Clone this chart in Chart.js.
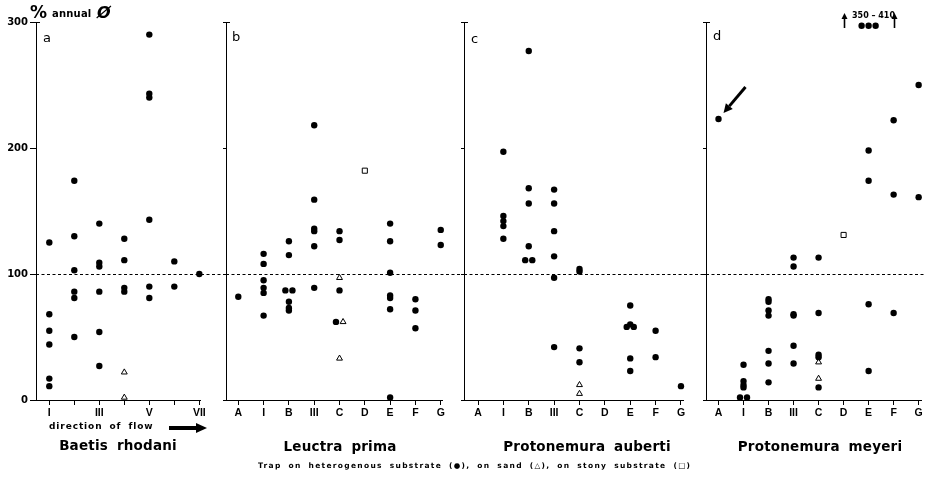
<!DOCTYPE html>
<html>
<head>
<meta charset="utf-8">
<script src="https://cdn.jsdelivr.net/npm/chart.js@4/dist/chart.umd.min.js"></script>
<style>
  html, body { margin:0; padding:0; background:#fff; }
  #wrap { position:relative; width:926px; height:483px; background:#fff; overflow:hidden; font-family:"DejaVu Sans", sans-serif; color:#000; }
  canvas { position:absolute; top:0; }
  .txt { position:absolute; white-space:nowrap; font-weight:bold; line-height:1; }
  .title { font-size:13.5px; letter-spacing:0.2px; word-spacing:4px; transform:translateX(-50%); }
  .plet { position:absolute; font-size:13px; line-height:1; font-family:"DejaVu Sans", sans-serif; }
</style>
</head>
<body>
<div id="wrap">
  <canvas id="cA"></canvas>
  <canvas id="cB"></canvas>
  <canvas id="cC"></canvas>
  <canvas id="cD"></canvas>

  <div class="txt" style="left:30px;top:4px;font-size:17px;">%</div>
  <div class="txt" style="left:52px;top:9px;font-size:10px;letter-spacing:0.2px;">annual</div>
  <div class="txt" style="left:97px;top:5px;font-size:16px;font-style:italic;">Ø</div>

  <div class="plet" style="left:43px;top:31px;">a</div>
  <div class="plet" style="left:232px;top:30px;">b</div>
  <div class="plet" style="left:471px;top:32px;">c</div>
  <div class="plet" style="left:713px;top:29px;">d</div>

  <div class="txt" style="left:852px;top:12px;font-size:8px;">350 – 410</div>

  <div class="txt" style="left:49px;top:422px;font-size:9px;letter-spacing:0.9px;word-spacing:3px;">direction of flow</div>
  <svg style="position:absolute;left:169px;top:422px;" width="40" height="12">
    <line x1="0" y1="6" x2="30" y2="6" stroke="#000" stroke-width="4"/>
    <polygon points="27,1 38,6 27,11" fill="#000"/>
  </svg>

  <div class="txt title" style="left:118px;top:439px;">Baetis rhodani</div>
  <div class="txt title" style="left:340px;top:440px;">Leuctra prima</div>
  <div class="txt title" style="left:587px;top:440px;">Protonemura auberti</div>
  <div class="txt title" style="left:820px;top:440px;">Protonemura meyeri</div>

  <div class="txt" style="left:258px;top:462px;font-size:7.5px;letter-spacing:1.3px;word-spacing:3px;">Trap on heterogenous substrate (●), on sand (△), on stony substrate (□)</div>
</div>

<script>
// ---------------- DATA (values in % of annual mean) ----------------
// Panel a: Baetis rhodani, traps I..VII along the direction of flow
const baetisCats = ['I','II','III','IV','V','VI','VII'];
const baetisTickLabels = ['I','','III','','V','','VII'];
const baetisHetero = [
  [125, 68, 55, 44, 17, 11],       // I
  [174, 130, 103, 86, 81, 50],     // II
  [140, 109, 106, 86, 54, 27],     // III
  [128, 111, 89, 86],              // IV
  [290, 243, 240, 143, 90, 81],    // V
  [110, 90],                       // VI
  [100]                            // VII
];
const baetisSand = [[], [], [], [22, 2], [], [], []];

// Panels b-d: traps A, I, B, III, C, D, E, F, G
const trapCats = ['A','I','B','III','C','D','E','F','G'];

// Panel b: Leuctra prima
const leuctraHetero = [
  [82],                              // A
  [116, 108, 95, 89, 85, 67],        // I
  [126, 115, 87, 87, 78, 73, 71],    // B
  [218, 159, 136, 134, 122, 89],     // III
  [134, 127, 87, 62],                // C
  [],                                // D
  [140, 126, 101, 83, 81, 72, 2],    // E
  [80, 71, 57],                      // F
  [135, 123]                         // G
];
const leuctraSand = [[], [], [], [], [97, 62, 33], [], [], [], []];
const leuctraStony = [[], [], [], [], [], [182], [], [], []];

// Panel c: Protonemura auberti
const aubertiHetero = [
  [],                                // A
  [197, 146, 142, 138, 128],         // I
  [277, 168, 156, 122, 111, 111],    // B
  [167, 156, 134, 114, 97, 42],      // III
  [104, 102, 41, 30],                // C
  [],                                // D
  [75, 60, 58, 58, 33, 23],          // E
  [55, 34],                          // F
  [11]                               // G
];
const aubertiSand = [[], [], [], [], [12, 5], [], [], [], []];

// Panel d: Protonemura meyeri (three E values of 350–410 are drawn at the top edge, 297)
const meyeriHetero = [
  [223],                             // A
  [28, 15, 12, 10, 2, 2],            // I
  [80, 78, 71, 67, 39, 29, 14],      // B
  [113, 106, 68, 67, 43, 29],        // III
  [113, 69, 36, 34, 10],             // C
  [],                                // D
  [297, 297, 297, 198, 174, 76, 23], // E
  [222, 163, 69],                    // F
  [250, 161]                         // G
];
const meyeriSand = [[], [], [], [], [30, 17], [], [], [], []];
const meyeriStony = [[], [], [], [], [], [131], [], [], []];

const yTicks = [0, 100, 200, 300];
const refValue = 100;

// ---------------- RENDERING ----------------
const DODGE = 0.28; // horizontal spread (category units) for coinciding points

const STYLES = {
  hetero: { style: 'circle', r: 3.2, fill: '#000', bw: 0 },
  sand:   { style: 'triangle', r: 3.4, fill: '#fff', bw: 1 },
  stony:  { style: 'rect', r: 3.6, fill: '#fff', bw: 1 }
};

function buildSets(seriesList) {
  // flatten, then dodge points with identical category & value (across series)
  const sets = seriesList.map(s => ({ ...s, pts: [] }));
  const groups = {};
  sets.forEach((s, si) => {
    s.values.forEach((arr, ci) => arr.forEach(v => {
      const key = ci + '|' + v;
      (groups[key] = groups[key] || []).push({ si, ci, v });
    }));
  });
  Object.values(groups).forEach(g => {
    g.forEach((p, k) => {
      const off = (k - (g.length - 1) / 2) * DODGE;
      sets[p.si].pts.push({ x: p.ci + off, y: p.v });
    });
  });
  return sets.map(s => {
    const st = STYLES[s.kind];
    return {
      data: s.pts,
      showLine: false,
      pointStyle: st.style,
      pointRadius: st.r,
      pointHoverRadius: st.r,
      pointBackgroundColor: st.fill,
      pointBorderColor: '#000',
      pointBorderWidth: st.bw,
      clip: false
    };
  });
}

const refLine = {
  id: 'refLine',
  beforeDatasetsDraw(chart, args, opts) {
    const { ctx, chartArea, scales: { y } } = chart;
    const py = Math.round(y.getPixelForValue(refValue)) + 0.5;
    ctx.save();
    ctx.strokeStyle = '#000';
    ctx.lineWidth = 1;
    ctx.setLineDash([3, 2.5]);
    ctx.beginPath();
    ctx.moveTo(chartArea.left, py);
    ctx.lineTo(opts.to, py);
    ctx.stroke();
    // small hook at the top of the y axis
    ctx.setLineDash([]);
    ctx.beginPath();
    ctx.moveTo(chartArea.left, chartArea.top + 0.5);
    ctx.lineTo(chartArea.left + 4, chartArea.top + 0.5);
    ctx.stroke();
    ctx.restore();
  }
};

function arrow(ctx, x1, y1, x2, y2, w, head) {
  const a = Math.atan2(y2 - y1, x2 - x1);
  const bx = x2 - Math.cos(a) * head, by = y2 - Math.sin(a) * head;
  ctx.lineWidth = w;
  ctx.beginPath(); ctx.moveTo(x1, y1); ctx.lineTo(bx, by); ctx.stroke();
  ctx.beginPath();
  ctx.moveTo(x2, y2);
  ctx.lineTo(bx + Math.cos(a + Math.PI / 2) * head * 0.5, by + Math.sin(a + Math.PI / 2) * head * 0.5);
  ctx.lineTo(bx + Math.cos(a - Math.PI / 2) * head * 0.5, by + Math.sin(a - Math.PI / 2) * head * 0.5);
  ctx.closePath(); ctx.fill();
}

const meyeriMarks = {
  id: 'meyeriMarks',
  afterDatasetsDraw(chart) {
    const { ctx, chartArea, scales: { x, y } } = chart;
    ctx.save();
    ctx.strokeStyle = '#000'; ctx.fillStyle = '#000';
    // arrow pointing at trap A value
    const px = x.getPixelForValue(0), py = y.getPixelForValue(meyeriHetero[0][0]);
    arrow(ctx, px + 27, py - 32, px + 5, py - 6, 3, 9);
    // up arrows flanking the off-scale values (at D and F)
    [5, 7].forEach(ci => {
      const ax = Math.round(x.getPixelForValue(ci)) + 0.5;
      arrow(ctx, ax, chartArea.top + 6, ax, chartArea.top - 9, 1.6, 6);
    });
    ctx.restore();
  }
};

function makePanel(id, L, cats, tickLabels, seriesList, showY, extraPlugins) {
  const cv = document.getElementById(id);
  cv.width = L.width; cv.height = 483;
  cv.style.left = L.left + 'px';
  cv.style.width = L.width + 'px'; cv.style.height = '483px';
  return new Chart(cv, {
    type: 'scatter',
    data: { datasets: buildSets(seriesList) },
    options: {
      responsive: false,
      animation: false,
      devicePixelRatio: 1,
      layout: { padding: { top: 22, right: L.width - (L.axisRight - L.left), bottom: 0, left: 0 } },
      plugins: { legend: { display: false }, tooltip: { enabled: false }, refLine: { to: L.dashTo - L.left } },
      scales: {
        x: {
          type: 'linear', min: L.xMin, max: L.xMax,
          afterBuildTicks: s => { s.ticks = cats.map((c, i) => ({ value: i })); },
          afterFit: s => { s.height = 83; },
          ticks: {
            autoSkip: false, maxRotation: 0, padding: 2, color: '#000',
            font: { family: 'Liberation Sans', weight: 'bold', size: 10.5 },
            callback: v => tickLabels[Math.round(v)]
          },
          grid: { drawOnChartArea: false, drawTicks: true, tickLength: 5, color: '#000', lineWidth: 1 },
          border: { display: true, color: '#000', width: 1 }
        },
        y: {
          min: 0, max: 300,
          afterBuildTicks: s => { s.ticks = yTicks.map(v => ({ value: v })); },
          afterFit: s => { s.width = L.axisLeft - L.left; },
          ticks: {
            display: showY, padding: 2, color: '#000',
            font: { family: 'DejaVu Sans', weight: 'bold', size: 10 }
          },
          grid: { drawOnChartArea: false, drawTicks: true, tickLength: showY ? 6 : 3, color: '#000', lineWidth: 1 },
          border: { display: true, color: '#000', width: 1 }
        }
      }
    },
    plugins: [refLine].concat(extraPlugins || [])
  });
}

// panel layout (canvas position, axis extents, category scale range)
const layA = { left: 0,   width: 230, axisLeft: 36,  axisRight: 200, dashTo: 226, xMin: -0.532, xMax: 6.028 };
const layB = { left: 216, width: 252, axisLeft: 226, axisRight: 442, dashTo: 464, xMin: -0.486, xMax: 8.05 };
const layC = { left: 454, width: 256, axisLeft: 464, axisRight: 683, dashTo: 706, xMin: -0.552, xMax: 8.08 };
const layD = { left: 696, width: 230, axisLeft: 706, axisRight: 925, dashTo: 926, xMin: -0.5,   xMax: 8.11 };

makePanel('cA', layA, baetisCats, baetisTickLabels,
  [{ kind: 'hetero', values: baetisHetero }, { kind: 'sand', values: baetisSand }], true);
makePanel('cB', layB, trapCats, trapCats,
  [{ kind: 'hetero', values: leuctraHetero }, { kind: 'sand', values: leuctraSand }, { kind: 'stony', values: leuctraStony }], false);
makePanel('cC', layC, trapCats, trapCats,
  [{ kind: 'hetero', values: aubertiHetero }, { kind: 'sand', values: aubertiSand }], false);
makePanel('cD', layD, trapCats, trapCats,
  [{ kind: 'hetero', values: meyeriHetero }, { kind: 'sand', values: meyeriSand }, { kind: 'stony', values: meyeriStony }], false, [meyeriMarks]);
</script>
</body>
</html>
